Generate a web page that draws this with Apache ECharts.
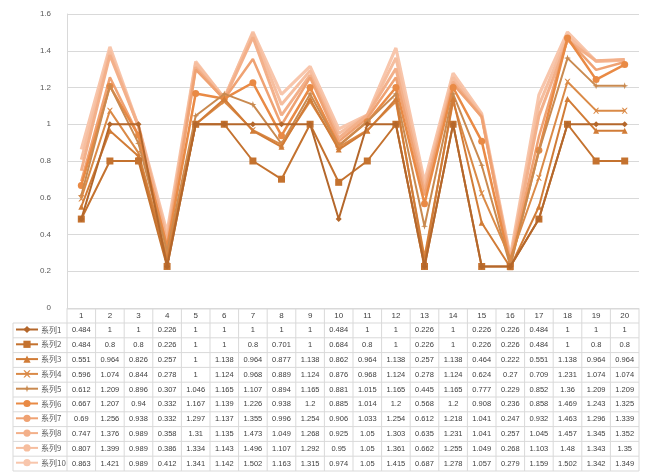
<!DOCTYPE html>
<html>
<head>
<meta charset="utf-8">
<script src="https://cdn.jsdelivr.net/npm/echarts@6/dist/echarts.min.js"></script>
<style>
html,body{margin:0;padding:0;background:#fff;}
#chart{width:645px;height:474px;}
</style>
</head>
<body>
<div id="chart"></div>
<script>
// Category labels along the x axis (also the table header)
const categories = ['1','2','3','4','5','6','7','8','9','10','11','12','13','14','15','16','17','18','19','20'];
const seriesNames = ['系列1','系列2','系列3','系列4','系列5','系列6','系列7','系列8','系列9','系列10'];
const yTicks = [0, 0.2, 0.4, 0.6, 0.8, 1, 1.2, 1.4, 1.6];

const s1 = [0.484,1,1,0.226,1,1,1,1,1,0.484,1,1,0.226,1,0.226,0.226,0.484,1,1,1];
const s2 = [0.484,0.8,0.8,0.226,1,1,0.8,0.701,1,0.684,0.8,1,0.226,1,0.226,0.226,0.484,1,0.8,0.8];
const s3 = [0.551,0.964,0.826,0.257,1,1.138,0.964,0.877,1.138,0.862,0.964,1.138,0.257,1.138,0.464,0.222,0.551,1.138,0.964,0.964];
const s4 = [0.596,1.074,0.844,0.278,1,1.124,0.968,0.889,1.124,0.876,0.968,1.124,0.278,1.124,0.624,0.27,0.709,1.231,1.074,1.074];
const s5 = [0.612,1.209,0.896,0.307,1.046,1.165,1.107,0.894,1.165,0.881,1.015,1.165,0.445,1.165,0.777,0.229,0.852,1.36,1.209,1.209];
const s6 = [0.667,1.207,0.94,0.332,1.167,1.139,1.226,0.938,1.2,0.885,1.014,1.2,0.568,1.2,0.908,0.236,0.858,1.469,1.243,1.325];
const s7 = [0.69,1.256,0.938,0.332,1.297,1.137,1.355,0.996,1.254,0.906,1.033,1.254,0.612,1.218,1.041,0.247,0.932,1.463,1.296,1.339];
const s8 = [0.747,1.376,0.989,0.358,1.31,1.135,1.473,1.049,1.268,0.925,1.05,1.303,0.635,1.231,1.041,0.257,1.045,1.457,1.345,1.352];
const s9 = [0.807,1.399,0.989,0.386,1.334,1.143,1.496,1.107,1.292,0.95,1.05,1.361,0.662,1.255,1.049,0.268,1.103,1.48,1.343,1.35];
const s10 = [0.863,1.421,0.989,0.412,1.341,1.142,1.502,1.163,1.315,0.974,1.05,1.415,0.687,1.278,1.057,0.279,1.159,1.502,1.342,1.349];

const seriesValues = [s1, s2, s3, s4, s5, s6, s7, s8, s9, s10];

const colors = ['#B4672B','#C4722F','#D17C37','#DA8A47','#C98A50','#E98A45','#EFA273','#F3B08A','#F6BE9F','#F8C6AC'];
const crossPath = 'path://M0,0L2,0L5,3L8,0L10,0L6,5L10,10L8,10L5,7L2,10L0,10L4,5Z';
const starPath = 'path://M5,0L6.2,3.8L10,5L6.2,6.2L5,10L3.8,6.2L0,5L3.8,3.8Z';
const symbols = ['diamond','rect','triangle',crossPath,starPath,'circle','none','none','none','none'];
const symbolSizes = [6,7,6,6,7,7,4,4,4,4];
const widths = [2,2,2,2,2,2.5,2.5,3,3,3.2];

const GRID = {left: 67, right: 6, top: 14, bottom: 166};
const TABLE_TOP = 309;
const HEADER_H = 14;
const ROW_H = 14.8;
const KEY_LEFT = 15;

const chart = echarts.init(document.getElementById('chart'), null, {renderer: 'canvas'});

const series = seriesValues.map((vals, i) => ({
  name: seriesNames[i],
  type: 'line',
  data: vals,
  symbol: symbols[i],
  symbolSize: symbolSizes[i],
  showSymbol: symbols[i] !== 'none',
  lineStyle: {width: widths[i], color: colors[i]},
  itemStyle: {color: colors[i]},
  z: 20 - i,
  animation: false
}));

chart.setOption({
  animation: false,
  color: colors,
  grid: GRID,
  legend: {
    orient: 'vertical',
    left: KEY_LEFT,
    top: TABLE_TOP + HEADER_H + 2,
    itemWidth: 22,
    itemHeight: 9,
    itemGap: ROW_H - 9,
    padding: 0,
    textStyle: {fontSize: 8, color: '#595959', fontFamily: 'Noto Sans CJK SC', lineHeight: 9, padding: [0,0,0,-2]},
    data: seriesNames
  },
  xAxis: {
    type: 'category',
    data: categories,
    boundaryGap: true,
    axisLine: {show: true, lineStyle: {color: '#D9D9D9'}},
    axisTick: {show: false},
    axisLabel: {show: false}
  },
  yAxis: {
    type: 'value',
    min: yTicks[0],
    max: yTicks[yTicks.length - 1],
    interval: 0.2,
    axisLine: {show: true, lineStyle: {color: '#D9D9D9'}},
    axisTick: {show: false},
    axisLabel: {fontSize: 8, color: '#595959', margin: 16, fontFamily: 'Liberation Sans',
      formatter: v => String(Math.round(v * 10) / 10)},
    splitLine: {lineStyle: {color: '#D9D9D9', width: 1}}
  },
  series: series
});

// Data table beneath the plot, aligned to the category axis
function buildTable() {
  const centers = categories.map((c, i) => chart.convertToPixel({xAxisIndex: 0}, i));
  const band = centers.length > 1 ? centers[1] - centers[0] : 28;
  const left = centers[0] - band / 2;
  const right = centers[centers.length - 1] + band / 2;
  const bottom = TABLE_TOP + HEADER_H + ROW_H * seriesNames.length;
  const lineStyle = {stroke: '#D9D9D9', lineWidth: 1};
  const g = [];
  // horizontal rules
  g.push({type: 'line', shape: {x1: left, y1: TABLE_TOP, x2: right, y2: TABLE_TOP}, style: lineStyle});
  for (let r = 0; r <= seriesNames.length; r++) {
    const y = TABLE_TOP + HEADER_H + r * ROW_H;
    g.push({type: 'line', shape: {x1: KEY_LEFT - 2, y1: y, x2: right, y2: y}, style: lineStyle});
  }
  // vertical rules
  for (let c = 0; c <= categories.length; c++) {
    const x = left + c * band;
    g.push({type: 'line', shape: {x1: x, y1: TABLE_TOP, x2: x, y2: bottom}, style: lineStyle});
  }
  g.push({type: 'line', shape: {x1: KEY_LEFT - 2, y1: TABLE_TOP + HEADER_H, x2: KEY_LEFT - 2, y2: bottom}, style: lineStyle});
  // header labels
  categories.forEach((c, i) => {
    g.push({type: 'text', x: centers[i], y: TABLE_TOP + HEADER_H / 2,
      style: {text: c, fontSize: 8, fill: '#404040', align: 'center', verticalAlign: 'middle', fontFamily: 'Liberation Sans'}});
  });
  // values
  seriesValues.forEach((vals, r) => {
    const y = TABLE_TOP + HEADER_H + r * ROW_H + ROW_H / 2;
    vals.forEach((v, i) => {
      g.push({type: 'text', x: centers[i], y: y,
        style: {text: String(v), fontSize: 7.5, fill: '#404040', align: 'center', verticalAlign: 'middle', fontFamily: 'Liberation Sans'}});
    });
  });
  chart.setOption({graphic: g});
}
buildTable();
</script>
</body>
</html>
